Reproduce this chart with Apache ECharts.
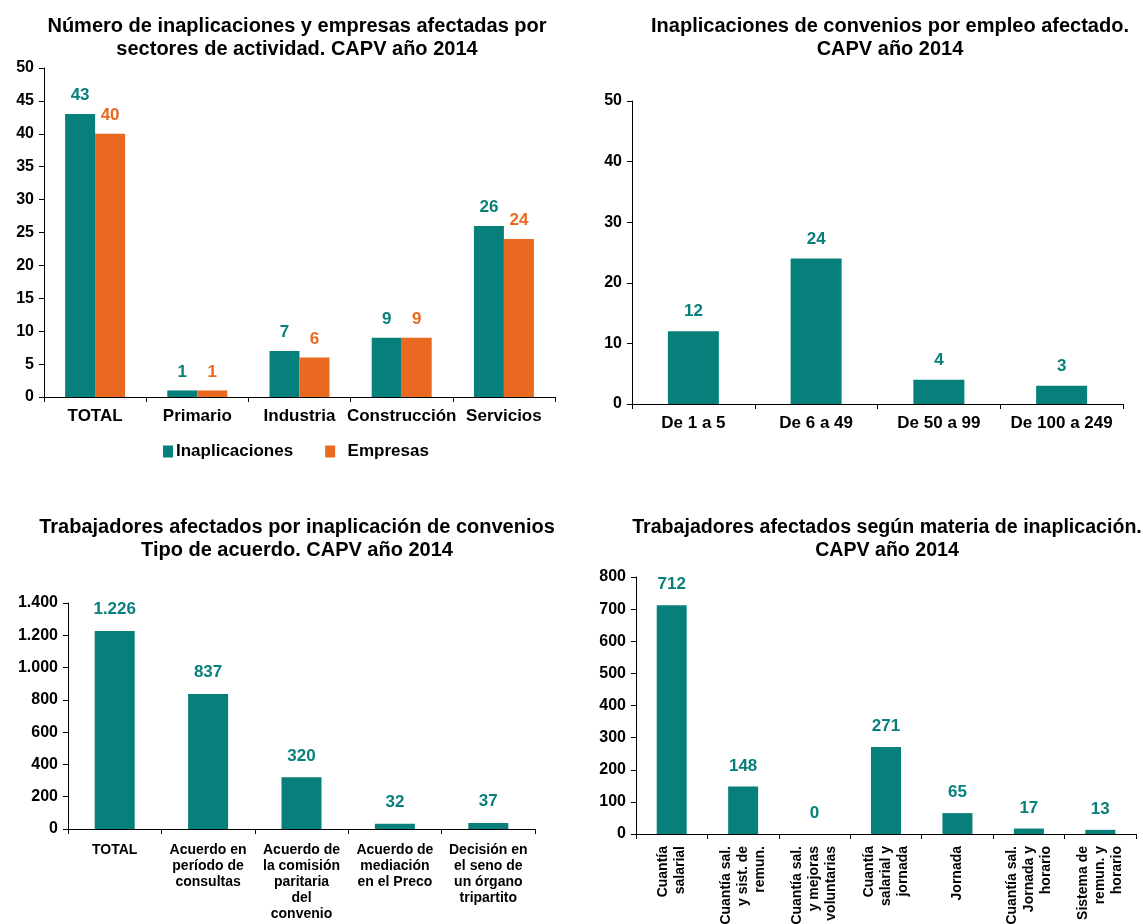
<!DOCTYPE html>
<html>
<head>
<meta charset="utf-8">
<script src="https://cdn.jsdelivr.net/npm/echarts@6/dist/echarts.min.js"></script>
<style>
  html, body { margin: 0; padding: 0; background: #fff; }
  #main { width: 1143px; height: 924px; }
</style>
</head>
<body>
<div id="main"></div>
<script>
// chart 1: sectores
const sectores = ['TOTAL', 'Primario', 'Industria', 'Construcción', 'Servicios'];
const inaplicaciones = [43, 1, 7, 9, 26];
const empresas = [40, 1, 6, 9, 24];

// chart 2: empleo
const tramosEmpleo = ['De 1 a 5', 'De 6 a 49', 'De 50 a 99', 'De 100 a 249'];
const inapEmpleo = [12, 24, 4, 3];

// chart 3: tipo de acuerdo
const tiposAcuerdo = ['TOTAL', 'Acuerdo en\nperíodo de\nconsultas', 'Acuerdo de\nla comisión\nparitaria\ndel\nconvenio',
  'Acuerdo de\nmediación\nen el Preco', 'Decisión en\nel seno de\nun órgano\ntripartito'];
const trabAcuerdo = [1226, 837, 320, 32, 37];

// chart 4: materia
const materias = ['Cuantía\nsalarial', 'Cuantía sal.\ny sist. de\nremun.', 'Cuantía sal.\ny mejoras\nvoluntarias',
  'Cuantía\nsalarial y\njornada', 'Jornada', 'Cuantía sal.\nJornada y\nhorario', 'Sistema de\nremun. y\nhorario'];
const trabMateria = [712, 148, 0, 271, 65, 17, 13];

const teal = '#07807b';
const orange = '#e8691f';
const font = '"Liberation Sans", Arial, Helvetica, sans-serif';

function fmtMiles(v) {
  return String(v).replace(/\B(?=(\d{3})+(?!\d))/g, '.');
}

const axisLine = { show: true, lineStyle: { color: '#000', width: 1 } };
const axisTick = { show: true, length: 5, lineStyle: { color: '#000' } };

function yAxis(idx, max, interval, fmt) {
  return {
    gridIndex: idx, type: 'value', min: 0, max: max, interval: interval,
    axisLine: axisLine, axisTick: axisTick, splitLine: { show: false },
    axisLabel: { color: '#000', fontWeight: 'bold', fontSize: 16, fontFamily: font, margin: 10,
      formatter: fmt || null }
  };
}

function xAxis(idx, data, labelOpt) {
  return {
    gridIndex: idx, type: 'category', data: data,
    axisLine: axisLine,
    axisTick: { show: true, length: 5, alignWithLabel: false, lineStyle: { color: '#000' } },
    axisLabel: Object.assign({ color: '#000', fontWeight: 'bold', fontFamily: font, interval: 0 }, labelOpt)
  };
}

function barLabel(color, size, dist, fmt) {
  return { show: true, position: 'top', color: color, fontWeight: 'bold', fontSize: size,
    fontFamily: font, distance: dist, formatter: fmt || '{c}' };
}

const titleStyle = { color: '#000', fontWeight: 'bold', fontSize: 20, fontFamily: font, lineHeight: 23 };

const chart = echarts.init(document.getElementById('main'));
const option = {
  backgroundColor: '#fff',
  animation: false,
  title: [
    { text: 'Número de inaplicaciones y empresas afectadas por\nsectores de actividad. CAPV año 2014',
      left: 292, top: 10, textAlign: 'center', textStyle: titleStyle },
    { text: 'Inaplicaciones de convenios por empleo afectado.\nCAPV año 2014',
      left: 885, top: 10, textAlign: 'center', textStyle: titleStyle },
    { text: 'Trabajadores afectados por inaplicación de convenios\nTipo de acuerdo. CAPV año 2014',
      left: 292, top: 511, textAlign: 'center', textStyle: titleStyle },
    { text: 'Trabajadores afectados según materia de inaplicación.\nCAPV año 2014',
      left: 882, top: 511, textAlign: 'center',
      textStyle: Object.assign({}, titleStyle, { fontSize: 19.6 }) }
  ],
  legend: {
    left: 158, top: 438, itemWidth: 10, itemHeight: 12, itemGap: 32,
    icon: 'rect',
    formatter: name => (name === 'Empresas' ? '  ' + name : name),
    textStyle: { color: '#000', fontWeight: 'bold', fontSize: 17, fontFamily: font, padding: [0, 0, 0, -2] },
    data: ['Inaplicaciones', 'Empresas']
  },
  grid: [
    { left: 44, top: 68, width: 511, height: 329, outerBoundsMode: 'none' },
    { left: 632, top: 101, width: 491, height: 303, outerBoundsMode: 'none' },
    { left: 68, top: 603, width: 467, height: 226, outerBoundsMode: 'none' },
    { left: 636, top: 577, width: 500, height: 257, outerBoundsMode: 'none' }
  ],
  xAxis: [
    xAxis(0, sectores, { fontSize: 17, margin: 11 }),
    xAxis(1, tramosEmpleo, { fontSize: 17, margin: 11 }),
    xAxis(2, tiposAcuerdo, { fontSize: 14, margin: 13, lineHeight: 16 }),
    xAxis(3, materias, { fontSize: 14, margin: 12, lineHeight: 17, rotate: 90 })
  ],
  yAxis: [
    yAxis(0, 50, 5),
    yAxis(1, 50, 10),
    yAxis(2, 1400, 200, fmtMiles),
    yAxis(3, 800, 100)
  ],
  series: [
    { name: 'Inaplicaciones', type: 'bar', xAxisIndex: 0, yAxisIndex: 0, data: inaplicaciones,
      barWidth: 30, barGap: '0%', itemStyle: { color: teal }, label: barLabel(teal, 17, 10) },
    { name: 'Empresas', type: 'bar', xAxisIndex: 0, yAxisIndex: 0, data: empresas,
      barWidth: 30, barGap: '0%', itemStyle: { color: orange }, label: barLabel(orange, 17, 10) },
    { name: 'empleo', type: 'bar', xAxisIndex: 1, yAxisIndex: 1, data: inapEmpleo,
      barWidth: 51, itemStyle: { color: teal }, label: barLabel(teal, 17, 11) },
    { name: 'acuerdo', type: 'bar', xAxisIndex: 2, yAxisIndex: 2, data: trabAcuerdo,
      barWidth: 40, itemStyle: { color: teal },
      label: barLabel(teal, 17, 13, p => fmtMiles(p.value)) },
    { name: 'materia', type: 'bar', xAxisIndex: 3, yAxisIndex: 3, data: trabMateria,
      barWidth: 30, itemStyle: { color: teal }, label: barLabel(teal, 17, 12) }
  ]
};
chart.setOption(option);
</script>
</body>
</html>
